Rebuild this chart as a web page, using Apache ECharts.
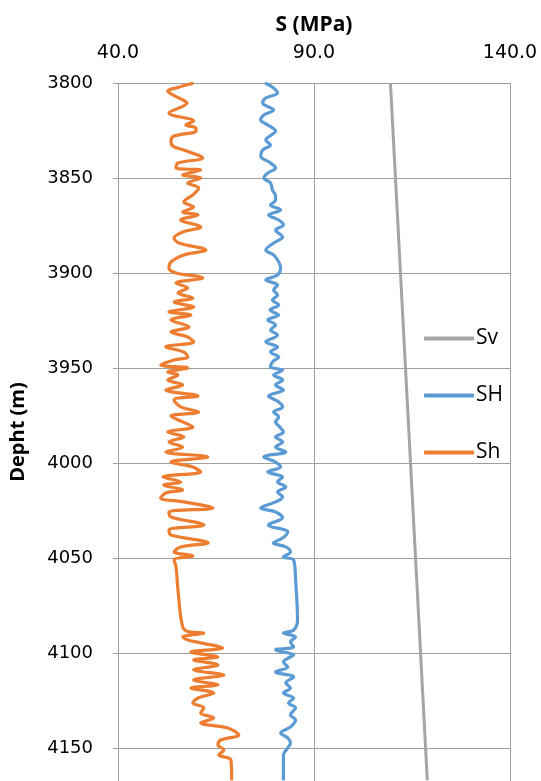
<!DOCTYPE html>
<html><head><meta charset="utf-8">
<script src="https://cdn.jsdelivr.net/npm/echarts@6/dist/echarts.min.js"></script>
<style>html,body{margin:0;padding:0;background:#fff}#c{width:541px;height:781px}</style>
</head><body><div id="c"></div>
<script>
const xTicks = [40, 90, 140];
const yTicks = [3800, 3850, 3900, 3950, 4000, 4050, 4100, 4150];
const seriesNames = ['Sv', 'SH', 'Sh'];

const svDepth = [3800, 4167];
const svValue = [109.5, 118.9];

const shMaxDepth = [3800,3802.6,3805.3,3807.9,3810.5,3814.2,3816.8,3819.5,3822.1,3825.3,3830.0,3832.6,3835.3,3838.4,3842.1,3844.7,3847.4,3850.0,3852.6,3856.3,3859.5,3861.6,3864.2,3866.8,3869.5,3872.1,3874.7,3877.4,3881.1,3884.2,3887.9,3890.5,3894.2,3897.4,3901.1,3903.7,3906.3,3908.9,3911.6,3914.2,3916.8,3919.5,3922.1,3924.7,3927.4,3930.0,3932.6,3936.3,3938.9,3941.6,3944.2,3946.8,3949.5,3951.1,3953.7,3956.3,3958.9,3961.6,3964.7,3967.9,3970.5,3973.2,3975.8,3978.4,3981.1,3983.7,3986.3,3988.9,3991.6,3994.2,3996.8,3999.5,4002.1,4004.7,4007.4,4010.0,4012.6,4015.3,4017.9,4020.5,4023.7,4025.8,4028.9,4032.6,4036.3,4039.5,4042.1,4044.2,4046.8,4049.5,4051.1,4061.6,4082.6,4087.9,4089.5,4091.6,4094.2,4096.8,4098.4,4101.1,4102.1,4104.7,4107.4,4110.0,4112.6,4115.8,4118.4,4121.1,4123.7,4126.3,4128.9,4132.6,4135.3,4138.9,4142.1,4144.7,4147.4,4150.0,4153.7,4167];
const shMaxValue = [77.5,79.7,80.7,77.7,76.9,79.7,77.2,76.4,78.2,80.2,77.7,78.9,76.9,76.4,78.9,80.2,78.2,77.2,78.9,79.4,80.2,80.2,78.9,81.5,78.4,81.0,82.2,80.2,82.0,79.7,77.7,79.7,81.0,81.5,80.7,77.7,80.7,79.7,80.7,79.4,81.0,78.8,81.0,78.2,80.2,78.9,80.7,77.7,80.7,78.9,81.0,79.4,78.9,82.0,79.7,82.0,80.2,82.2,78.4,81.0,82.0,79.7,81.0,80.2,81.3,82.2,80.2,82.0,80.2,82.8,77.2,80.2,81.5,78.2,82.0,80.7,82.8,80.7,82.0,80.2,76.4,80.2,82.0,78.4,83.3,82.0,79.6,82.8,84.0,82.2,84.8,85.3,85.8,84.8,82.2,85.3,84.0,84.8,80.2,84.8,84.0,82.2,83.3,80.2,84.8,82.8,84.0,82.2,84.8,83.5,85.3,84.0,85.3,84.0,81.5,83.3,84.0,83.3,82.2,82.2];

const shMinDepth = [3800,3802.6,3804.2,3806.3,3808.9,3810.5,3815.8,3820.0,3822.1,3823.7,3825.3,3827.9,3830.5,3833.2,3835.3,3839.5,3842.1,3844.7,3845.8,3848.4,3850.0,3852.6,3855.3,3858.9,3862.6,3865.3,3867.9,3869.5,3872.1,3875.8,3878.4,3881.6,3884.2,3887.9,3890.5,3894.2,3897.4,3900.0,3902.6,3905.3,3907.9,3910.5,3913.2,3915.3,3917.9,3920.5,3922.1,3924.7,3928.4,3931.1,3933.7,3936.3,3938.9,3941.6,3944.2,3945.8,3948.4,3950.0,3952.1,3953.7,3956.3,3958.9,3961.6,3964.7,3966.8,3970.5,3973.2,3975.3,3978.4,3981.1,3983.7,3986.3,3988.9,3991.6,3994.2,3996.8,3999.5,4002.1,4004.7,4007.4,4010.0,4011.6,4014.2,4015.8,4018.4,4020.5,4023.7,4025.8,4028.4,4032.6,4035.3,4037.9,4042.0,4044.2,4046.8,4048.9,4051.1,4054.7,4066.8,4086.3,4088.9,4089.5,4091.6,4093.2,4094.7,4097.4,4099.5,4102.1,4103.7,4106.3,4108.9,4111.6,4114.2,4116.8,4118.4,4121.1,4123.7,4126.3,4128.9,4131.6,4134.2,4136.8,4139.5,4143.2,4145.8,4148.4,4151.1,4153.7,4156.3,4167];
const shMinValue = [59.3,54.8,52.7,54.0,56.5,57.6,53.0,59.3,57.3,59.9,59.9,54.3,53.5,54.0,56.8,61.6,55.3,54.8,61.1,56.5,61.1,57.8,60.6,59.1,56.8,59.3,56.5,60.4,56.0,61.1,56.5,54.3,55.5,62.4,56.8,53.5,53.0,54.8,61.6,54.8,57.8,55.3,59.1,54.3,59.3,53.0,58.6,53.5,58.1,53.5,57.8,59.3,52.2,56.8,57.8,54.3,50.9,57.8,52.7,55.3,52.7,56.5,52.2,60.4,54.3,56.0,60.6,53.5,56.5,59.1,52.7,56.8,53.0,56.5,52.2,62.9,53.5,59.1,61.1,51.5,56.0,51.7,56.5,52.2,50.9,56.8,64.2,53.0,53.5,61.9,53.0,53.5,63.0,56.0,54.3,59.1,54.3,54.8,55.3,56.5,58.1,61.9,56.5,57.8,61.1,66.7,58.6,65.5,59.3,65.5,59.3,67.0,59.3,65.5,58.6,64.4,60.4,59.1,61.9,61.1,64.4,61.1,68.0,70.8,66.2,65.5,67.0,65.7,68.8,69.0];

const pair = (d, v) => d.map((dd, i) => [v[i], dd]);
const FONT = 'DejaVu Sans';

const chart = echarts.init(document.getElementById('c'), null, {renderer: 'canvas'});
chart.setOption({
  animation: false,
  backgroundColor: '#ffffff',
  grid: {left: 117, top: 83, width: 393, height: 698, containLabel: false},
  legend: {
    orient: 'vertical', left: 419, top: 323, itemGap: 36,
    itemWidth: 50, itemHeight: 4, icon: 'roundRect',
    textStyle: {fontFamily: 'Open Sans', fontSize: 21, color: '#000', padding: [0, 0, 0, -3]},
    data: seriesNames
  },
  xAxis: {
    type: 'value', position: 'top', min: xTicks[0], max: xTicks[2], interval: 50,
    name: 'S (MPa)', nameLocation: 'middle', nameGap: 47,
    nameTextStyle: {fontFamily: 'Open Sans', fontWeight: 'bold', fontSize: 21, color: '#000'},
    axisLine: {show: false}, axisTick: {show: false},
    axisLabel: {margin: 20, fontFamily: FONT, fontSize: 19, color: '#000', formatter: v => v.toFixed(1)},
    splitLine: {show: true, lineStyle: {color: '#A0A0A0', width: 1}}
  },
  yAxis: {
    type: 'value', inverse: true, min: yTicks[0], max: 4167.4, interval: 50,
    name: 'Depht (m)', nameLocation: 'middle', nameGap: 90, nameRotate: 90,
    nameTextStyle: {fontFamily: 'Open Sans', fontWeight: 'bold', fontSize: 20, color: '#000'},
    axisLine: {show: true, lineStyle: {color: '#A0A0A0', width: 1}},
    axisTick: {show: true, inside: false, length: 5, lineStyle: {color: '#A0A0A0'}},
    axisLabel: {margin: 25, fontFamily: FONT, fontSize: 18, color: '#000', showMaxLabel: false,
      formatter: v => (yTicks.indexOf(v) >= 0 ? String(v) : '')},
    splitLine: {show: true, lineStyle: {color: '#A0A0A0', width: 1}}
  },
  series: [
    {name: 'Sv', type: 'line', data: pair(svDepth, svValue), showSymbol: false, symbol: 'none',
      lineStyle: {color: '#A5A5A5', width: 3}, itemStyle: {color: '#A5A5A5'}},
    {name: 'SH', type: 'line', data: pair(shMaxDepth, shMaxValue), showSymbol: false, symbol: 'none', smooth: 0.35,
      lineStyle: {color: '#5B9BD5', width: 3.2}, itemStyle: {color: '#5B9BD5'}},
    {name: 'Sh', type: 'line', data: pair(shMinDepth, shMinValue), showSymbol: false, symbol: 'none', smooth: 0.35,
      lineStyle: {color: '#ED7D31', width: 3.2}, itemStyle: {color: '#ED7D31'}}
  ]
});
</script></body></html>
